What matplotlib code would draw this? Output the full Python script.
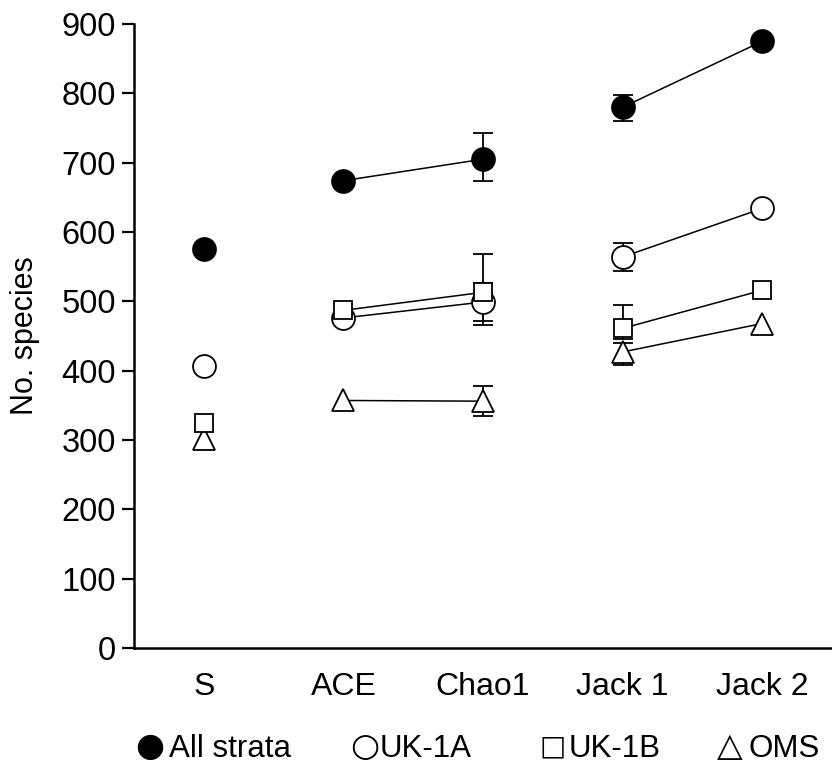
import numpy as np
import matplotlib

matplotlib.use("Agg")
import matplotlib.pyplot as plt  # noqa: E402

plt.rcParams["font.family"] = ["Liberation Sans", "DejaVu Sans"]

categories = ["S", "ACE", "Chao1", "Jack 1", "Jack 2"]
all_strata = [576, 674, 705, 780, 875]
uk_1a = [407, 476, 499, 564, 634]
uk_1b = [324, 487, 513, 461, 516]
oms = [301, 357, 356, 427, 468]

# error bars only on Chao1 and Jack 1 (lower, upper)
err_idx = [2, 3]
all_err = [[32, 20], [38, 18]]
uk_1a_err = [[33, 20], [28, 20]]
uk_1b_err = [[41, 15], [55, 34]]
oms_err = [[21, 19], [22, 13]]

series = [
    ("OMS", oms, oms_err, "^", "white", 16),
    ("UK-1A", uk_1a, uk_1a_err, "o", "white", 16.5),
    ("UK-1B", uk_1b, uk_1b_err, "s", "white", 13.5),
    ("All strata", all_strata, all_err, "o", "black", 16.5),
]

fig = plt.figure(figsize=(8.32, 7.69), dpi=100)
ax = fig.add_axes([134 / 832, 121 / 769, 698 / 832, 624 / 769])
x = np.arange(len(categories))

for name, vals, err, mk, face, ms in series:
    v = np.array(vals, dtype=float)
    # connecting segments: ACE-Chao1 and Jack 1-Jack 2
    for seg in ([1, 2], [3, 4]):
        ax.plot(x[seg], v[seg], color="black", lw=1.1, zorder=1)
    ax.errorbar(x[err_idx], v[err_idx], yerr=err, fmt="none", ecolor="black",
                elinewidth=1.3, capsize=7, capthick=1.3, zorder=2)
    ax.plot(x, v, ls="none", marker=mk, ms=ms, mfc=face, mec="black", mew=1.3,
            zorder=3)

ax.set_xlim(-0.5, 4.5)
ax.set_ylim(0, 900)
ax.set_yticks(range(0, 901, 100))
ax.set_xticks(x)
ax.set_xticklabels(categories)
ax.tick_params(axis="x", length=0, pad=17, labelsize=23)
ax.tick_params(axis="y", length=9, width=1.6, pad=4, labelsize=23.5)
for side in ("top", "right"):
    ax.spines[side].set_visible(False)
for side in ("left", "bottom"):
    ax.spines[side].set_linewidth(1.8)
ax.set_ylabel("No. species", fontsize=22)
ax.yaxis.set_label_coords(-0.135, 0.5)

# legend drawn as text with symbols, as in the original
legend_y = 1 - 749 / 769
legend_items = [("\u25cf", 135, 24, "All strata", 169),
                ("\u25cb", 350, 24, "UK-1A", 380),
                ("\u25a1", 540, 20, "UK-1B", 569),
                ("\u25b3", 717, 24, "OMS", 748)]
for sym, sx, size, label, tx in legend_items:
    fig.text(sx / 832, legend_y + 0.003, sym, fontsize=size, family="DejaVu Sans",
             ha="left", va="center")
    fig.text(tx / 832, legend_y, label, fontsize=22.5, ha="left", va="center")

fig.savefig("out.png", dpi=100)
